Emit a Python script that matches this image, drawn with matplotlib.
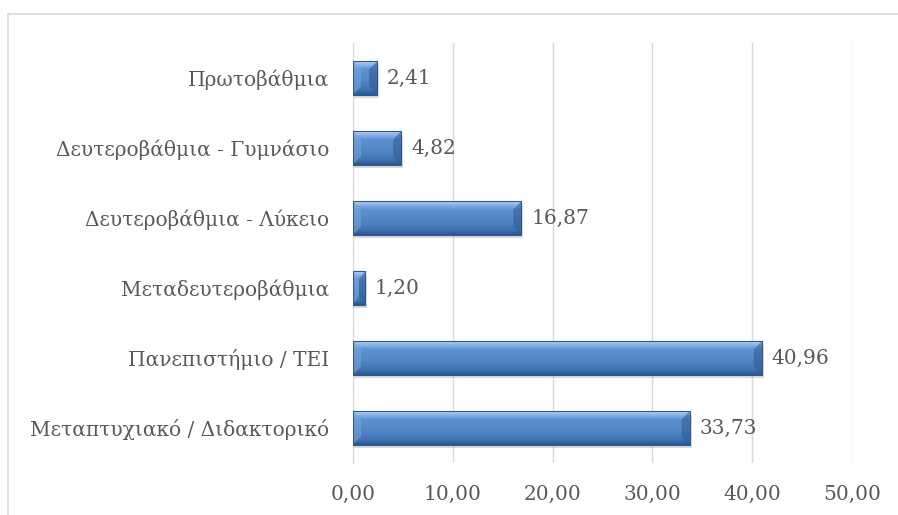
import numpy as np
import matplotlib.pyplot as plt
from matplotlib.patches import Rectangle, Polygon
from matplotlib.colors import LinearSegmentedColormap

# Δεδομένα
categories = ['Πρωτοβάθμια', 'Δευτεροβάθμια - Γυμνάσιο', 'Δευτεροβάθμια - Λύκειο',
              'Μεταδευτεροβάθμια', 'Πανεπιστήμιο / ΤΕΙ', 'Μεταπτυχιακό / Διδακτορικό']
values = [2.41, 4.82, 16.87, 1.20, 40.96, 33.73]
xticks = [0, 10, 20, 30, 40, 50]

plt.rcParams['font.family'] = ['DejaVu Serif']
txt = '#595959'
fs = 14.5

fig = plt.figure(figsize=(8.98, 5.15), dpi=100)
ax = fig.add_axes([353/898, 1 - 463/515, 499/898, 420/515])

y = np.arange(len(categories))
h = 0.48
bars = ax.barh(y, values, height=h, color='#4f81bd', zorder=3)

# градиент сверху вниз: светлый -> тёмный
grad = np.linspace(0, 1, 200).reshape(-1, 1)
cmap = LinearSegmentedColormap.from_list('b', [(0, '#b8d3f2'), (0.12, '#86b0e4'), (0.25, '#5d91d2'),
                                              (0.6, '#4f84c6'), (0.85, '#3f72b1'), (1, '#2b5590')])
for b in bars:
    x0, y0 = b.get_x(), b.get_y()
    w, hh = b.get_width(), b.get_height()
    # тень
    ax.add_patch(Rectangle((x0, y0 + 0.05), w + 0.2, hh, color='#9a9a9a', alpha=0.35, zorder=2, lw=0))
    im = ax.imshow(grad, cmap=cmap, aspect='auto', extent=(x0, x0 + w, y0 + hh, y0),
                   zorder=3, interpolation='bilinear')
    im.set_clip_path(b)
    d = min(0.8, w / 2)
    dy = hh * 0.25
    ax.add_patch(Polygon([(x0, y0), (x0 + d, y0 + dy), (x0 + d, y0 + hh - dy), (x0, y0 + hh)],
                         color='#7aa4dc', alpha=0.55, lw=0, zorder=4))
    ax.add_patch(Polygon([(x0 + w, y0), (x0 + w - d, y0 + dy), (x0 + w - d, y0 + hh - dy), (x0 + w, y0 + hh)],
                         color='#2f5a8c', alpha=0.55, lw=0, zorder=4))
    ax.add_patch(Rectangle((x0, y0), w, hh, fill=False, ec='#30598a', lw=0.8, zorder=5))
    ax.text(x0 + w + 1.0, y0 + hh / 2, f'{w:.2f}'.replace('.', ','), va='center', ha='left',
            fontsize=fs, color=txt, zorder=6)

ax.set_xlim(0, 50)
ax.set_ylim(len(categories) - 0.5, -0.5)
ax.set_xticks(xticks)
ax.set_xticklabels([f'{v:.2f}'.replace('.', ',') for v in xticks], fontsize=fs, color=txt)
ax.set_yticks(y)
ax.set_yticklabels(categories, fontsize=fs, color=txt)
ax.tick_params(length=0, pad=17)
ax.tick_params(axis='x', pad=16)
ax.grid(axis='x', color='#d9d9d9', lw=1, zorder=0)
for s in ['top', 'right', 'bottom']:
    ax.spines[s].set_visible(False)
ax.spines['left'].set_color('#d9d9d9')
ax.set_axisbelow(True)

# рамка диаграммы
fig.add_artist(Rectangle((8/898, -0.05), 2, 1 - 14/515 + 0.05, transform=fig.transFigure,
                         fill=False, ec='#d9d9d9', lw=1.2))

fig.savefig('out.png', dpi=100)
